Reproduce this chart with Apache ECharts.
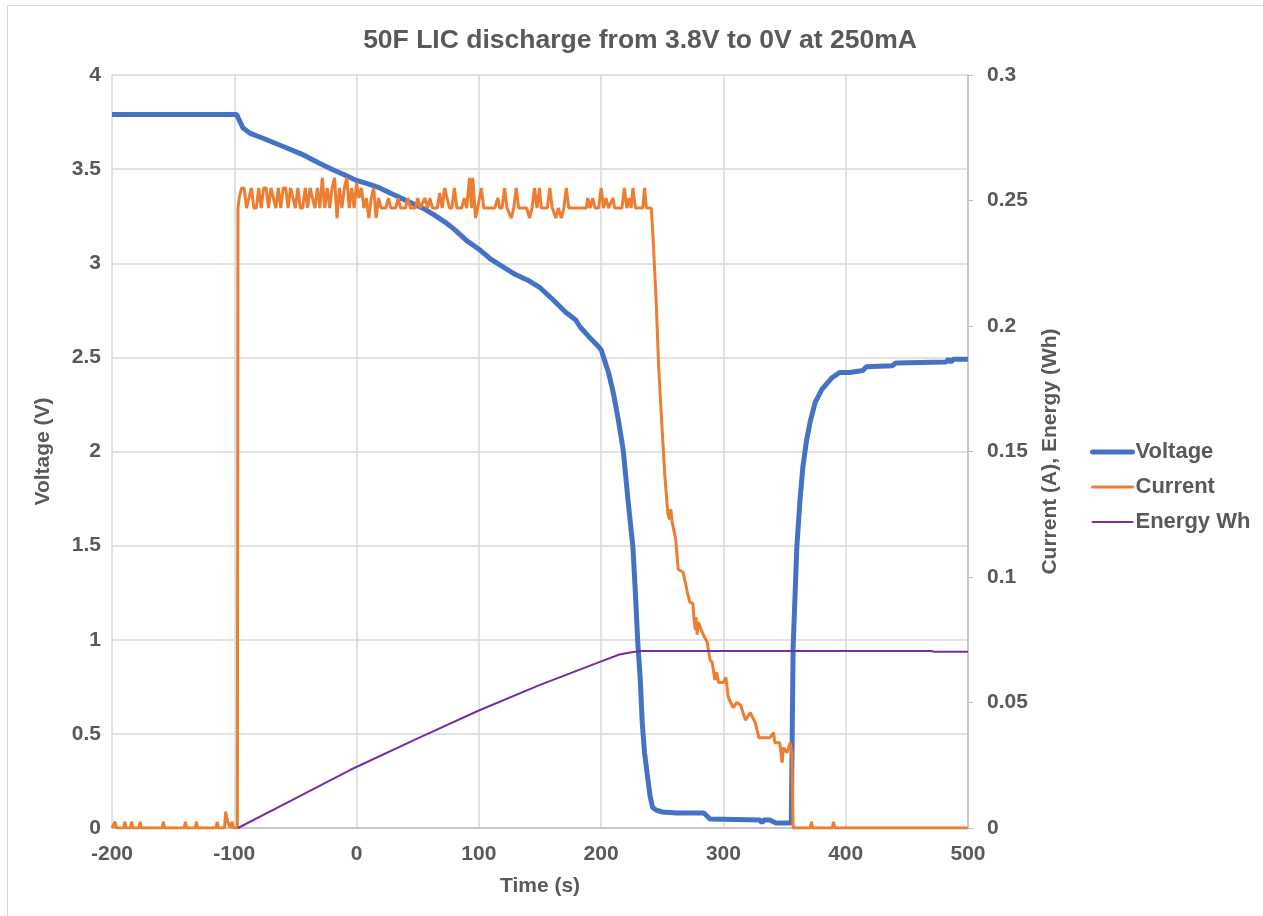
<!DOCTYPE html>
<html>
<head>
<meta charset="utf-8">
<title>50F LIC discharge</title>
<script src="https://cdn.jsdelivr.net/npm/echarts@6/dist/echarts.min.js"></script>
<style>
  html, body { margin: 0; padding: 0; background: #fff; }
  #chart { width: 1263px; height: 916px; }
</style>
</head>
<body>
<div id="chart"></div>
<script>
// time (s), voltage (V)
const voltage = [
  [-200, 3.79], [-98, 3.79], [-96, 3.76], [-93, 3.72], [-87, 3.69], [-75, 3.66],
  [-60, 3.62], [-45, 3.58], [-30, 3.53], [-19, 3.495], [-10, 3.47], [0, 3.44],
  [10, 3.42], [19, 3.40], [27, 3.375], [35, 3.35], [45, 3.32], [55, 3.29],
  [65, 3.25], [72, 3.22], [80, 3.18], [90, 3.12], [101, 3.07], [110, 3.02],
  [120, 2.98], [130, 2.94], [140, 2.91], [150, 2.87], [160, 2.81], [171, 2.74],
  [179, 2.70], [183, 2.66], [190, 2.61], [196, 2.57], [200, 2.54], [203, 2.48],
  [206, 2.42], [210, 2.31], [214, 2.17], [218, 2.01], [222, 1.74], [226, 1.49],
  [228, 1.25], [230, 0.98], [232, 0.79], [233.6, 0.56], [235.5, 0.40], [237.6, 0.29],
  [240, 0.17], [242, 0.11], [245, 0.095], [250, 0.085], [262, 0.08], [284, 0.08],
  [289, 0.048], [330, 0.042], [331.5, 0.027], [333, 0.042], [338, 0.042], [343, 0.027],
  [355.5, 0.027], [357, 0.96], [360, 1.49], [362.6, 1.74], [365, 1.92], [368, 2.06],
  [371, 2.16], [375, 2.26], [380.5, 2.33], [388.5, 2.39], [395, 2.42], [403, 2.42],
  [414, 2.43], [417, 2.45], [438, 2.455], [441, 2.47], [482, 2.475], [484, 2.49],
  [486, 2.475], [488, 2.49], [500, 2.49]
];

// time (s), current (A)
const current = [
  [-200, 0], [-198.5, 0], [-197.5, 0.0025], [-196.5, 0], [-190.5, 0], [-189.5, 0.0025],
  [-188.5, 0], [-185, 0], [-184, 0.0025], [-183, 0], [-178, 0], [-177, 0.0025],
  [-176, 0], [-159, 0], [-158, 0.0025], [-157, 0], [-141, 0], [-140, 0.0025],
  [-139, 0], [-132, 0], [-131, 0.0025], [-130, 0], [-115, 0], [-114, 0.0025],
  [-113, 0], [-108, 0], [-107, 0.0065], [-105.5, 0.0025], [-103, 0], [-102, 0.0025],
  [-100.5, 0], [-97.5, 0], [-97, 0.247], [-96, 0.251], [-94, 0.255], [-92, 0.255],
  [-90, 0.247], [-88, 0.251], [-86, 0.255], [-84, 0.247], [-82, 0.247], [-80, 0.255],
  [-78, 0.247], [-76, 0.255], [-74, 0.255], [-72, 0.247], [-70, 0.255], [-68, 0.251],
  [-66, 0.247], [-64, 0.255], [-62, 0.247], [-60, 0.255], [-58, 0.255], [-56, 0.247],
  [-54, 0.255], [-52, 0.251], [-50, 0.247], [-48, 0.255], [-46, 0.247], [-44, 0.247],
  [-42, 0.255], [-40, 0.247], [-38, 0.255], [-36, 0.251], [-34, 0.247], [-32, 0.255],
  [-30, 0.247], [-28, 0.259], [-26, 0.247], [-24, 0.255], [-22, 0.247], [-20, 0.255],
  [-18, 0.259], [-16, 0.243], [-14, 0.255], [-12, 0.247], [-10, 0.255], [-8, 0.259],
  [-6, 0.247], [-4, 0.255], [-2, 0.247], [0, 0.257], [2, 0.251], [4, 0.255],
  [6, 0.247], [8, 0.251], [10, 0.243], [12, 0.251], [14, 0.255], [16, 0.243],
  [18, 0.251], [20, 0.247], [24, 0.247], [26, 0.251], [28, 0.247], [32, 0.247],
  [34, 0.251], [36, 0.247], [40, 0.247], [42, 0.251], [44, 0.247], [48, 0.247],
  [50, 0.251], [52, 0.247], [56, 0.251], [58, 0.247], [60, 0.251], [62, 0.247],
  [66, 0.247], [68, 0.253], [70, 0.247], [72, 0.255], [74, 0.251], [76, 0.247],
  [78, 0.247], [80, 0.255], [82, 0.247], [86, 0.247], [88, 0.251], [90, 0.247],
  [92.4, 0.259], [94, 0.247], [95, 0.259], [97.3, 0.243], [99, 0.247], [102, 0.255],
  [104, 0.247], [113, 0.247], [115.6, 0.251], [117, 0.247], [119, 0.247], [121, 0.255],
  [123, 0.247], [126.5, 0.243], [128.5, 0.247], [130.6, 0.255], [132.5, 0.247], [139, 0.247],
  [141.5, 0.243], [143.5, 0.247], [145.5, 0.255], [147.5, 0.247], [149.6, 0.255], [151, 0.247],
  [156, 0.247], [158, 0.255], [160, 0.247], [163, 0.243], [165, 0.247], [167.4, 0.243],
  [169.5, 0.247], [171.5, 0.255], [173.5, 0.247], [188, 0.247], [189, 0.251], [191, 0.247],
  [193, 0.251], [195, 0.247], [198, 0.247], [200, 0.255], [202, 0.247], [204, 0.251],
  [206, 0.247], [209.6, 0.251], [211, 0.247], [217, 0.247], [219, 0.255], [221, 0.247],
  [223, 0.251], [224.5, 0.247], [226, 0.255], [228, 0.247], [234, 0.247], [235.5, 0.255],
  [237, 0.247], [241, 0.247], [242.5, 0.235], [245, 0.21], [247, 0.184], [249.6, 0.161],
  [252, 0.141], [254.6, 0.125], [256, 0.123], [257, 0.127], [258, 0.122], [261, 0.115],
  [263, 0.103], [267, 0.102], [270, 0.095], [272.5, 0.09], [275, 0.0896], [276, 0.083],
  [277, 0.079], [277.5, 0.084], [278.5, 0.077], [279.5, 0.082], [282.6, 0.078], [286.7, 0.074],
  [289, 0.067], [290.8, 0.066], [293, 0.059], [294.5, 0.062], [296, 0.058], [300, 0.058],
  [302, 0.06], [304, 0.052], [308, 0.048], [311, 0.05], [314, 0.049], [318, 0.043],
  [322, 0.046], [326, 0.042], [329, 0.036], [338, 0.036], [341, 0.038], [342, 0.034],
  [346, 0.034], [348, 0.026], [349, 0.032], [352, 0.030], [354.5, 0.034], [356, 0.030],
  [357, 0], [371, 0], [372, 0.0025], [373, 0], [389, 0], [390, 0.0025], [391, 0], [500, 0]
];

// time (s), energy (Wh)
const energy = [
  [-97, 0], [-50, 0.0118], [-5.4, 0.0231], [50, 0.0357], [100, 0.0468], [150, 0.0570],
  [199, 0.0662], [215, 0.0691], [225, 0.0700], [232, 0.0705], [470, 0.0705], [472, 0.0702],
  [500, 0.0702]
];

const seriesNames = ["Voltage", "Current", "Energy Wh"];
const seriesColors = ["#4472C4", "#ED7D31", "#7030A0"];
const seriesWidths = [5, 3, 2];

const font = "'Liberation Sans', Arial, sans-serif";
const gray = "#595959";
const labelStyle = { fontFamily: font, fontSize: 21, fontWeight: "bold", color: gray };

const chart = echarts.init(document.getElementById("chart"));
const option = {
  animation: false,
  backgroundColor: "#fff",
  title: {
    text: "50F LIC discharge from 3.8V to 0V at 250mA",
    left: 635,
    top: 22,
    textAlign: "center",
    textStyle: { fontFamily: font, fontSize: 26.5, fontWeight: "bold", color: gray },
  },
  graphic: [
    {
      type: "rect",
      shape: { x: 7.5, y: 5.5, width: 1400, height: 1000 },
      style: { fill: "none", stroke: "#D9D9D9", lineWidth: 1 },
      silent: true,
    },
  ],
  legend: {
    data: seriesNames.map((n, i) => ({
      name: n,
      lineStyle: { width: seriesWidths[i], color: seriesColors[i], cap: "round" },
    })),
    orient: "vertical",
    left: 1085,
    top: 436,
    itemWidth: 40,
    itemHeight: 14,
    itemGap: 13,
    itemStyle: { opacity: 0 },
    textStyle: { fontFamily: font, fontSize: 22, fontWeight: "bold", color: gray, padding: [0, 0, 0, -2] },
  },
  grid: { left: 112, right: 295, top: 75, bottom: 88 },
  xAxis: {
    type: "value",
    min: -200,
    max: 500,
    interval: 100,
    name: "Time (s)",
    nameLocation: "middle",
    nameGap: 48,
    nameTextStyle: labelStyle,
    axisLine: { lineStyle: { color: "#BFBFBF", width: 1.5 } },
    axisTick: { show: false },
    axisLabel: Object.assign({ margin: 16 }, labelStyle),
    splitLine: { lineStyle: { color: "#D9D9D9", width: 1.5 } },
  },
  yAxis: [
    {
      type: "value",
      min: 0,
      max: 4,
      interval: 0.5,
      name: "Voltage (V)",
      nameLocation: "middle",
      nameGap: 58,
      nameTextStyle: labelStyle,
      axisLine: { show: false },
      axisTick: { show: false },
      axisLabel: Object.assign({ margin: 11 }, labelStyle),
      splitLine: { lineStyle: { color: "#D9D9D9", width: 1.5 } },
    },
    {
      type: "value",
      min: 0,
      max: 0.3,
      interval: 0.05,
      name: "Current (A), Energy (Wh)",
      nameLocation: "middle",
      nameGap: 72,
      nameTextStyle: labelStyle,
      axisLine: { show: true, lineStyle: { color: "#BFBFBF", width: 1.5 } },
      axisTick: { show: true, length: 5, lineStyle: { color: "#BFBFBF" } },
      axisLabel: Object.assign({ margin: 19 }, labelStyle),
      splitLine: { show: false },
    },
  ],
  series: [
    {
      name: "Voltage",
      type: "line",
      yAxisIndex: 0,
      symbol: "none",
      lineStyle: { color: seriesColors[0], width: seriesWidths[0] },
      itemStyle: { color: seriesColors[0] },
      data: voltage,
    },
    {
      name: "Current",
      type: "line",
      yAxisIndex: 1,
      symbol: "none",
      lineStyle: { color: seriesColors[1], width: seriesWidths[1] },
      itemStyle: { color: seriesColors[1] },
      data: current,
    },
    {
      name: "Energy Wh",
      type: "line",
      yAxisIndex: 1,
      symbol: "none",
      lineStyle: { color: seriesColors[2], width: seriesWidths[2] },
      itemStyle: { color: seriesColors[2] },
      data: energy,
    },
  ],
};
chart.setOption(option);
</script>
</body>
</html>
